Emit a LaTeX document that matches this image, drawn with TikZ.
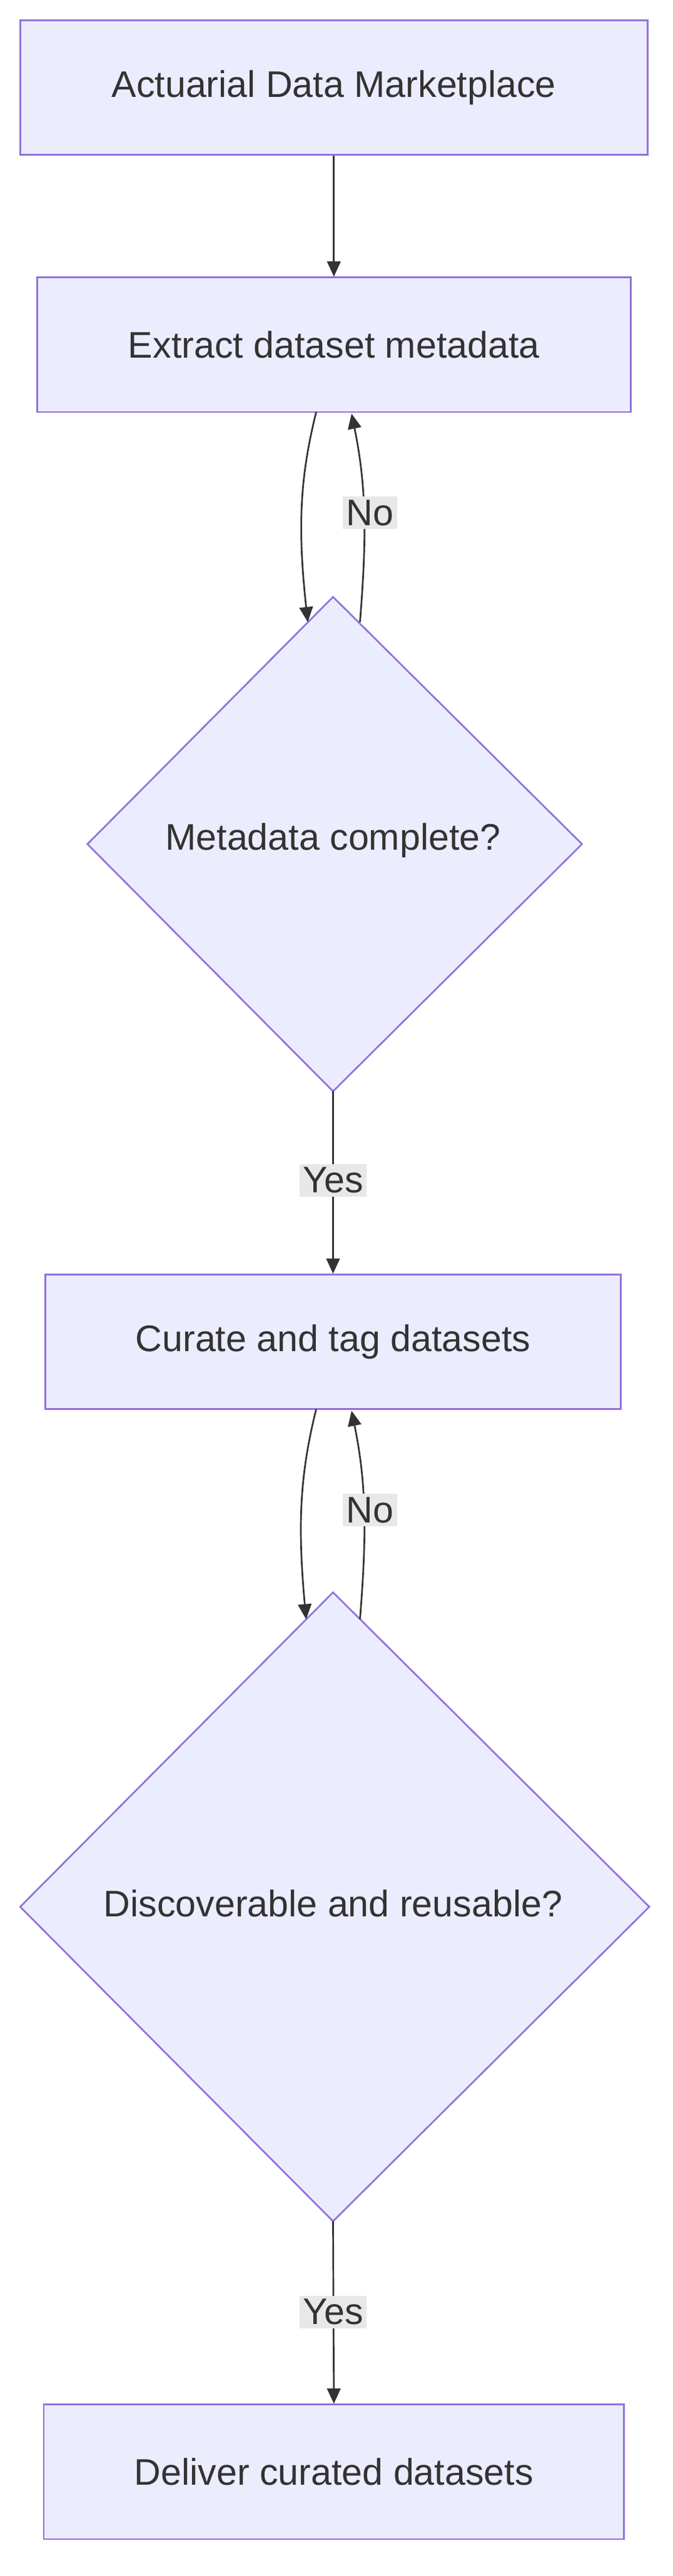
\documentclass[tikz,border=0pt]{standalone}
\usepackage{fontspec}
\setmainfont{Liberation Sans}
\usetikzlibrary{shapes.geometric,arrows.meta}
\definecolor{nfill}{HTML}{ECECFF}
\definecolor{nline}{HTML}{9370DB}
\definecolor{ntext}{HTML}{333333}
\definecolor{lbg}{HTML}{E8E8E8}
\begin{document}
\begin{tikzpicture}[x=1pt,y=-1pt,
  boxn/.style={draw=nline,fill=nfill,line width=1pt,text=ntext,font=\fontsize{22}{26}\selectfont},
  edge/.style={draw=ntext,line width=1pt,-{Triangle[length=9pt,width=8pt]}},
  lab/.style={fill=lbg,text=ntext,font=\fontsize{22}{26}\selectfont,inner sep=2pt}]
\useasboundingbox (0,0) rectangle (400,1532);
\node[boxn,minimum width=373pt,minimum height=80pt] (a) at (198.5,52) {Actuarial Data Marketplace};
\node[boxn,minimum width=353pt,minimum height=80pt] (b) at (198.5,205) {Extract dataset metadata};
\draw[boxn] (198,355) -- (346,502) -- (198,649) -- (52,502) -- cycle;
\node[text=ntext,font=\fontsize{22}{26}\selectfont] (c) at (198,500) {Metadata complete?};
\coordinate (ct) at (198,355); \coordinate (cb) at (198,649);
\node[boxn,minimum width=342pt,minimum height=80pt] (d) at (198,798) {Curate and tag datasets};
\draw[boxn] (198,947) -- (386,1134) -- (198,1321) -- (12,1134) -- cycle;
\node[text=ntext,font=\fontsize{22}{26}\selectfont] (e) at (198,1132) {Discoverable and reusable?};
\coordinate (et) at (198,947); \coordinate (eb) at (198,1321);
\node[boxn,minimum width=345pt,minimum height=80pt] (f) at (198.5,1470) {Deliver curated datasets};
\draw[edge] (a.south) -- (b.north);
\draw[edge] (188,245) .. controls (178,285) and (177,315) .. (183,370);
\draw[edge] (214,370) .. controls (218,320) and (218,290) .. (209,246);
\node[lab] (n1) at (220,305) {No};
\draw[edge] (cb) -- (d.north);
\node[lab] (y1) at (198,702) {Yes};
\draw[edge] (188,838) .. controls (178,878) and (177,908) .. (182,963);
\draw[edge] (214,963) .. controls (218,913) and (218,883) .. (209,839);
\node[lab] (n2) at (220,898) {No};
\draw[edge] (eb) -- (f.north);
\node[lab] (y2) at (198,1375) {Yes};
\end{tikzpicture}
\end{document}
